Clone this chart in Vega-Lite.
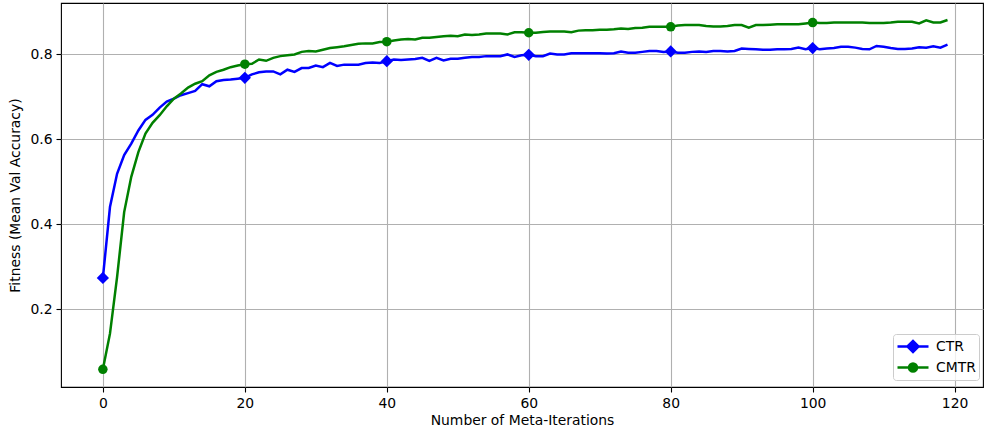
{
  "$schema": "https://vega.github.io/schema/vega-lite/v6.json",
  "width": 922,
  "height": 384,
  "autosize": "none",
  "padding": {"left": 61, "top": 3, "right": 1, "bottom": 46},
  "background": "#ffffff",
  "config": {
    "font": "DejaVu Sans",
    "view": {"stroke": "#000000", "strokeWidth": 1.1},
    "axis": {
      "labelFont": "DejaVu Sans", "labelFontSize": 13.9, "labelColor": "#000000",
      "titleFont": "DejaVu Sans", "titleFontSize": 13.9, "titleFontWeight": "normal", "titleColor": "#000000",
      "tickColor": "#000000", "tickSize": 5, "tickWidth": 1.1, "labelPadding": 4,
      "domain": false, "gridColor": "#b0b0b0", "gridWidth": 1.1
    },
    "legend": {
      "labelFont": "DejaVu Sans", "labelFontSize": 13.9, "labelColor": "#000000",
      "strokeColor": "#cccccc", "fillColor": "rgba(255,255,255,0.8)", "cornerRadius": 3,
      "padding": 3, "rowPadding": 1, "symbolSize": 256, "labelOffset": 21, "symbolStrokeWidth": 2.5, "symbolOpacity": 1
    }
  },
  "data": {"values": [
{"iteration":0,"series":"CTR","fitness":0.273},{"iteration":1,"series":"CTR","fitness":0.440},{"iteration":2,"series":"CTR","fitness":0.518},{"iteration":3,"series":"CTR","fitness":0.562},{"iteration":4,"series":"CTR","fitness":0.589},{"iteration":5,"series":"CTR","fitness":0.620},{"iteration":6,"series":"CTR","fitness":0.645},{"iteration":7,"series":"CTR","fitness":0.657},{"iteration":8,"series":"CTR","fitness":0.674},{"iteration":9,"series":"CTR","fitness":0.688},
{"iteration":10,"series":"CTR","fitness":0.695},{"iteration":11,"series":"CTR","fitness":0.703},{"iteration":12,"series":"CTR","fitness":0.708},{"iteration":13,"series":"CTR","fitness":0.713},{"iteration":14,"series":"CTR","fitness":0.729},{"iteration":15,"series":"CTR","fitness":0.724},{"iteration":16,"series":"CTR","fitness":0.736},{"iteration":17,"series":"CTR","fitness":0.739},{"iteration":18,"series":"CTR","fitness":0.740},{"iteration":19,"series":"CTR","fitness":0.742},
{"iteration":20,"series":"CTR","fitness":0.744},{"iteration":21,"series":"CTR","fitness":0.752},{"iteration":22,"series":"CTR","fitness":0.757},{"iteration":23,"series":"CTR","fitness":0.759},{"iteration":24,"series":"CTR","fitness":0.759},{"iteration":25,"series":"CTR","fitness":0.752},{"iteration":26,"series":"CTR","fitness":0.763},{"iteration":27,"series":"CTR","fitness":0.758},{"iteration":28,"series":"CTR","fitness":0.767},{"iteration":29,"series":"CTR","fitness":0.767},
{"iteration":30,"series":"CTR","fitness":0.773},{"iteration":31,"series":"CTR","fitness":0.769},{"iteration":32,"series":"CTR","fitness":0.779},{"iteration":33,"series":"CTR","fitness":0.772},{"iteration":34,"series":"CTR","fitness":0.775},{"iteration":35,"series":"CTR","fitness":0.775},{"iteration":36,"series":"CTR","fitness":0.775},{"iteration":37,"series":"CTR","fitness":0.779},{"iteration":38,"series":"CTR","fitness":0.780},{"iteration":39,"series":"CTR","fitness":0.779},
{"iteration":40,"series":"CTR","fitness":0.783},{"iteration":41,"series":"CTR","fitness":0.787},{"iteration":42,"series":"CTR","fitness":0.786},{"iteration":43,"series":"CTR","fitness":0.787},{"iteration":44,"series":"CTR","fitness":0.788},{"iteration":45,"series":"CTR","fitness":0.791},{"iteration":46,"series":"CTR","fitness":0.784},{"iteration":47,"series":"CTR","fitness":0.791},{"iteration":48,"series":"CTR","fitness":0.785},{"iteration":49,"series":"CTR","fitness":0.789},
{"iteration":50,"series":"CTR","fitness":0.789},{"iteration":51,"series":"CTR","fitness":0.791},{"iteration":52,"series":"CTR","fitness":0.793},{"iteration":53,"series":"CTR","fitness":0.793},{"iteration":54,"series":"CTR","fitness":0.795},{"iteration":55,"series":"CTR","fitness":0.795},{"iteration":56,"series":"CTR","fitness":0.795},{"iteration":57,"series":"CTR","fitness":0.799},{"iteration":58,"series":"CTR","fitness":0.793},{"iteration":59,"series":"CTR","fitness":0.797},
{"iteration":60,"series":"CTR","fitness":0.798},{"iteration":61,"series":"CTR","fitness":0.795},{"iteration":62,"series":"CTR","fitness":0.795},{"iteration":63,"series":"CTR","fitness":0.801},{"iteration":64,"series":"CTR","fitness":0.799},{"iteration":65,"series":"CTR","fitness":0.799},{"iteration":66,"series":"CTR","fitness":0.802},{"iteration":67,"series":"CTR","fitness":0.802},{"iteration":68,"series":"CTR","fitness":0.802},{"iteration":69,"series":"CTR","fitness":0.802},
{"iteration":70,"series":"CTR","fitness":0.802},{"iteration":71,"series":"CTR","fitness":0.801},{"iteration":72,"series":"CTR","fitness":0.802},{"iteration":73,"series":"CTR","fitness":0.806},{"iteration":74,"series":"CTR","fitness":0.803},{"iteration":75,"series":"CTR","fitness":0.803},{"iteration":76,"series":"CTR","fitness":0.805},{"iteration":77,"series":"CTR","fitness":0.807},{"iteration":78,"series":"CTR","fitness":0.807},{"iteration":79,"series":"CTR","fitness":0.805},
{"iteration":80,"series":"CTR","fitness":0.806},{"iteration":81,"series":"CTR","fitness":0.803},{"iteration":82,"series":"CTR","fitness":0.803},{"iteration":83,"series":"CTR","fitness":0.805},{"iteration":84,"series":"CTR","fitness":0.806},{"iteration":85,"series":"CTR","fitness":0.805},{"iteration":86,"series":"CTR","fitness":0.807},{"iteration":87,"series":"CTR","fitness":0.807},{"iteration":88,"series":"CTR","fitness":0.806},{"iteration":89,"series":"CTR","fitness":0.807},
{"iteration":90,"series":"CTR","fitness":0.813},{"iteration":91,"series":"CTR","fitness":0.812},{"iteration":92,"series":"CTR","fitness":0.811},{"iteration":93,"series":"CTR","fitness":0.810},{"iteration":94,"series":"CTR","fitness":0.810},{"iteration":95,"series":"CTR","fitness":0.811},{"iteration":96,"series":"CTR","fitness":0.811},{"iteration":97,"series":"CTR","fitness":0.812},{"iteration":98,"series":"CTR","fitness":0.815},{"iteration":99,"series":"CTR","fitness":0.811},
{"iteration":100,"series":"CTR","fitness":0.814},{"iteration":101,"series":"CTR","fitness":0.811},{"iteration":102,"series":"CTR","fitness":0.813},{"iteration":103,"series":"CTR","fitness":0.814},{"iteration":104,"series":"CTR","fitness":0.817},{"iteration":105,"series":"CTR","fitness":0.817},{"iteration":106,"series":"CTR","fitness":0.815},{"iteration":107,"series":"CTR","fitness":0.812},{"iteration":108,"series":"CTR","fitness":0.811},{"iteration":109,"series":"CTR","fitness":0.819},
{"iteration":110,"series":"CTR","fitness":0.817},{"iteration":111,"series":"CTR","fitness":0.814},{"iteration":112,"series":"CTR","fitness":0.812},{"iteration":113,"series":"CTR","fitness":0.812},{"iteration":114,"series":"CTR","fitness":0.813},{"iteration":115,"series":"CTR","fitness":0.816},{"iteration":116,"series":"CTR","fitness":0.815},{"iteration":117,"series":"CTR","fitness":0.818},{"iteration":118,"series":"CTR","fitness":0.815},{"iteration":119,"series":"CTR","fitness":0.822},
{"iteration":0,"series":"CMTR","fitness":0.058},{"iteration":1,"series":"CMTR","fitness":0.142},{"iteration":2,"series":"CMTR","fitness":0.275},{"iteration":3,"series":"CMTR","fitness":0.428},{"iteration":4,"series":"CMTR","fitness":0.511},{"iteration":5,"series":"CMTR","fitness":0.569},{"iteration":6,"series":"CMTR","fitness":0.613},{"iteration":7,"series":"CMTR","fitness":0.638},{"iteration":8,"series":"CMTR","fitness":0.656},{"iteration":9,"series":"CMTR","fitness":0.677},
{"iteration":10,"series":"CMTR","fitness":0.695},{"iteration":11,"series":"CMTR","fitness":0.707},{"iteration":12,"series":"CMTR","fitness":0.721},{"iteration":13,"series":"CMTR","fitness":0.730},{"iteration":14,"series":"CMTR","fitness":0.736},{"iteration":15,"series":"CMTR","fitness":0.750},{"iteration":16,"series":"CMTR","fitness":0.758},{"iteration":17,"series":"CMTR","fitness":0.763},{"iteration":18,"series":"CMTR","fitness":0.769},{"iteration":19,"series":"CMTR","fitness":0.773},
{"iteration":20,"series":"CMTR","fitness":0.776},{"iteration":21,"series":"CMTR","fitness":0.777},{"iteration":22,"series":"CMTR","fitness":0.787},{"iteration":23,"series":"CMTR","fitness":0.784},{"iteration":24,"series":"CMTR","fitness":0.791},{"iteration":25,"series":"CMTR","fitness":0.795},{"iteration":26,"series":"CMTR","fitness":0.797},{"iteration":27,"series":"CMTR","fitness":0.799},{"iteration":28,"series":"CMTR","fitness":0.805},{"iteration":29,"series":"CMTR","fitness":0.807},
{"iteration":30,"series":"CMTR","fitness":0.806},{"iteration":31,"series":"CMTR","fitness":0.810},{"iteration":32,"series":"CMTR","fitness":0.814},{"iteration":33,"series":"CMTR","fitness":0.816},{"iteration":34,"series":"CMTR","fitness":0.818},{"iteration":35,"series":"CMTR","fitness":0.821},{"iteration":36,"series":"CMTR","fitness":0.824},{"iteration":37,"series":"CMTR","fitness":0.825},{"iteration":38,"series":"CMTR","fitness":0.825},{"iteration":39,"series":"CMTR","fitness":0.828},
{"iteration":40,"series":"CMTR","fitness":0.829},{"iteration":41,"series":"CMTR","fitness":0.832},{"iteration":42,"series":"CMTR","fitness":0.834},{"iteration":43,"series":"CMTR","fitness":0.835},{"iteration":44,"series":"CMTR","fitness":0.834},{"iteration":45,"series":"CMTR","fitness":0.838},{"iteration":46,"series":"CMTR","fitness":0.838},{"iteration":47,"series":"CMTR","fitness":0.840},{"iteration":48,"series":"CMTR","fitness":0.842},{"iteration":49,"series":"CMTR","fitness":0.843},
{"iteration":50,"series":"CMTR","fitness":0.842},{"iteration":51,"series":"CMTR","fitness":0.846},{"iteration":52,"series":"CMTR","fitness":0.845},{"iteration":53,"series":"CMTR","fitness":0.846},{"iteration":54,"series":"CMTR","fitness":0.848},{"iteration":55,"series":"CMTR","fitness":0.848},{"iteration":56,"series":"CMTR","fitness":0.848},{"iteration":57,"series":"CMTR","fitness":0.846},{"iteration":58,"series":"CMTR","fitness":0.851},{"iteration":59,"series":"CMTR","fitness":0.851},
{"iteration":60,"series":"CMTR","fitness":0.850},{"iteration":61,"series":"CMTR","fitness":0.850},{"iteration":62,"series":"CMTR","fitness":0.852},{"iteration":63,"series":"CMTR","fitness":0.853},{"iteration":64,"series":"CMTR","fitness":0.853},{"iteration":65,"series":"CMTR","fitness":0.853},{"iteration":66,"series":"CMTR","fitness":0.851},{"iteration":67,"series":"CMTR","fitness":0.855},{"iteration":68,"series":"CMTR","fitness":0.856},{"iteration":69,"series":"CMTR","fitness":0.856},
{"iteration":70,"series":"CMTR","fitness":0.857},{"iteration":71,"series":"CMTR","fitness":0.857},{"iteration":72,"series":"CMTR","fitness":0.858},{"iteration":73,"series":"CMTR","fitness":0.860},{"iteration":74,"series":"CMTR","fitness":0.859},{"iteration":75,"series":"CMTR","fitness":0.861},{"iteration":76,"series":"CMTR","fitness":0.862},{"iteration":77,"series":"CMTR","fitness":0.864},{"iteration":78,"series":"CMTR","fitness":0.864},{"iteration":79,"series":"CMTR","fitness":0.864},
{"iteration":80,"series":"CMTR","fitness":0.864},{"iteration":81,"series":"CMTR","fitness":0.867},{"iteration":82,"series":"CMTR","fitness":0.868},{"iteration":83,"series":"CMTR","fitness":0.868},{"iteration":84,"series":"CMTR","fitness":0.868},{"iteration":85,"series":"CMTR","fitness":0.866},{"iteration":86,"series":"CMTR","fitness":0.865},{"iteration":87,"series":"CMTR","fitness":0.865},{"iteration":88,"series":"CMTR","fitness":0.866},{"iteration":89,"series":"CMTR","fitness":0.868},
{"iteration":90,"series":"CMTR","fitness":0.868},{"iteration":91,"series":"CMTR","fitness":0.862},{"iteration":92,"series":"CMTR","fitness":0.868},{"iteration":93,"series":"CMTR","fitness":0.868},{"iteration":94,"series":"CMTR","fitness":0.869},{"iteration":95,"series":"CMTR","fitness":0.870},{"iteration":96,"series":"CMTR","fitness":0.870},{"iteration":97,"series":"CMTR","fitness":0.870},{"iteration":98,"series":"CMTR","fitness":0.870},{"iteration":99,"series":"CMTR","fitness":0.872},
{"iteration":100,"series":"CMTR","fitness":0.874},{"iteration":101,"series":"CMTR","fitness":0.873},{"iteration":102,"series":"CMTR","fitness":0.873},{"iteration":103,"series":"CMTR","fitness":0.874},{"iteration":104,"series":"CMTR","fitness":0.874},{"iteration":105,"series":"CMTR","fitness":0.874},{"iteration":106,"series":"CMTR","fitness":0.874},{"iteration":107,"series":"CMTR","fitness":0.874},{"iteration":108,"series":"CMTR","fitness":0.873},{"iteration":109,"series":"CMTR","fitness":0.873},
{"iteration":110,"series":"CMTR","fitness":0.873},{"iteration":111,"series":"CMTR","fitness":0.874},{"iteration":112,"series":"CMTR","fitness":0.876},{"iteration":113,"series":"CMTR","fitness":0.876},{"iteration":114,"series":"CMTR","fitness":0.876},{"iteration":115,"series":"CMTR","fitness":0.872},{"iteration":116,"series":"CMTR","fitness":0.879},{"iteration":117,"series":"CMTR","fitness":0.874},{"iteration":118,"series":"CMTR","fitness":0.874},{"iteration":119,"series":"CMTR","fitness":0.880}
  ]},
  "encoding": {
    "x": {
      "field": "iteration", "type": "quantitative",
      "scale": {"domain": [-5.9, 124.0], "nice": false, "zero": false},
      "axis": {"title": "Number of Meta-Iterations", "values": [0, 20, 40, 60, 80, 100, 120], "format": "d", "titlePadding": 4}
    },
    "y": {
      "field": "fitness", "type": "quantitative",
      "scale": {"domain": [0.0165, 0.92], "nice": false, "zero": false},
      "axis": {"title": "Fitness (Mean Val Accuracy)", "values": [0.2, 0.4, 0.6, 0.8], "format": ".1f", "titlePadding": 7}
    }
  },
  "layer": [
    {
      "mark": {"type": "line", "strokeWidth": 2.5},
      "encoding": {
        "color": {
          "field": "series", "type": "nominal",
          "scale": {"domain": ["CTR", "CMTR"], "range": ["#0000ff", "#008000"]},
          "legend": {"title": null, "orient": "none", "legendX": 832, "legendY": 331}
        }
      }
    },
    {
      "transform": [{"filter": "datum.series === 'CTR' && datum.iteration % 20 === 0"}],
      "mark": {"type": "point", "shape": "diamond", "filled": true, "opacity": 1, "size": 150, "color": "#0000ff"}
    },
    {
      "transform": [{"filter": "datum.series === 'CMTR' && datum.iteration % 20 === 0"}],
      "mark": {"type": "point", "shape": "circle", "filled": true, "opacity": 1, "size": 90, "color": "#008000"}
    },
    {
      "transform": [{"filter": "datum.iteration < 0"}],
      "mark": {"type": "point", "filled": true, "opacity": 1, "strokeWidth": 2.5},
      "encoding": {
        "color": {"field": "series", "type": "nominal", "scale": {"domain": ["CTR", "CMTR"], "range": ["#0000ff", "#008000"]}, "legend": {"title": null, "orient": "none", "legendX": 832, "legendY": 331}},
        "stroke": {"field": "series", "type": "nominal", "scale": {"domain": ["CTR", "CMTR"], "range": ["#0000ff", "#008000"]}, "legend": {"title": null, "orient": "none", "legendX": 832, "legendY": 331}},
        "shape": {"field": "series", "type": "nominal", "scale": {"domain": ["CTR", "CMTR"], "range": ["M-1,0L2.875,0M0.25,0L0.9375,-0.6875L1.625,0L0.9375,0.6875Z", "M-1,0L2.875,0M0.4375,0A0.5,0.5 0 1,0 1.4375,0A0.5,0.5 0 1,0 0.4375,0Z"]}, "legend": {"title": null, "orient": "none", "legendX": 832, "legendY": 331}}
      }
    }
  ]
}
